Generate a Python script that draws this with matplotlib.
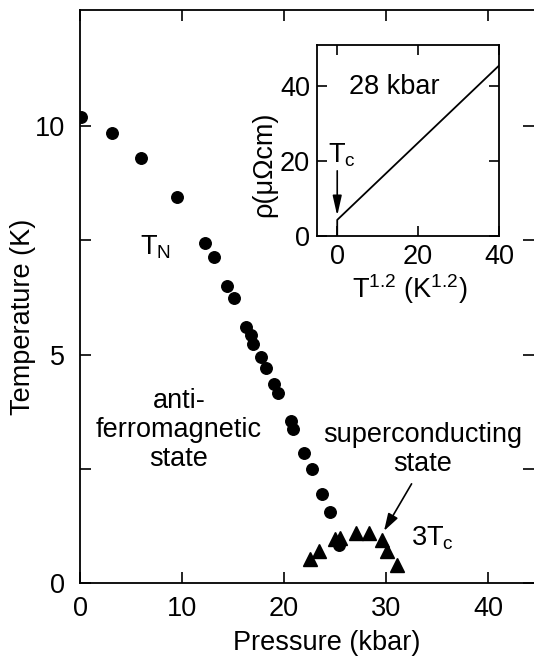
import matplotlib
matplotlib.use("Agg")
import matplotlib.pyplot as plt

plt.rcParams['font.family'] = ['Liberation Sans', 'DejaVu Sans']
plt.rcParams['mathtext.fontset'] = 'custom'
plt.rcParams['mathtext.rm'] = 'Liberation Sans'
plt.rcParams['mathtext.it'] = 'Liberation Sans'

# Neel temperature vs pressure (circles)
pressure_tn = [0.1, 3.1, 6.0, 9.5, 12.3, 13.1, 14.4, 15.1, 16.25, 16.8, 17.0,
               17.75, 18.2, 19.0, 19.4, 20.65, 20.85, 22.0, 22.7, 23.75, 24.5, 25.35]
temp_tn = [10.2, 9.85, 9.3, 8.45, 7.45, 7.13, 6.51, 6.24, 5.61, 5.43, 5.22,
           4.95, 4.70, 4.35, 4.15, 3.55, 3.36, 2.84, 2.49, 1.95, 1.55, 0.84]
# 3 x superconducting Tc vs pressure (triangles)
pressure_tc = [22.5, 23.4, 25.0, 25.5, 27.1, 28.3, 29.6, 30.1, 31.1]
temp_3tc = [0.52, 0.69, 0.96, 0.99, 1.10, 1.09, 0.94, 0.69, 0.39]

# inset: resistivity vs T^1.2 at 28 kbar
inset_x = [0, 0, 40]
inset_rho = [0, 4.3, 45.5]

main_xticks = [0, 10, 20, 30, 40]
main_yticks = [0, 5, 10]
main_yminor = [2.5, 7.5]
inset_xticks = [0, 20, 40]
inset_yticks = [0, 20, 40]

FS = 19.5

fig = plt.figure(figsize=(5.34, 6.63), dpi=100)
ax = fig.add_axes([80/534, 80/663, 454/534, 573/663])
ax.plot(pressure_tn, temp_tn, 'o', color='black', markersize=8.3, zorder=3)
ax.plot(pressure_tc, temp_3tc, '^', color='black', markersize=9.5, zorder=3)
ax.set_xlim(0, 44.5)
ax.set_ylim(0, 12.54)
ax.set_xticks(main_xticks)
ax.set_yticks(main_yticks)
ax.set_yticks(main_yminor, minor=True)
ax.spines['right'].set_visible(False)
for s in ['left', 'top', 'bottom']:
    ax.spines[s].set_linewidth(1.3)
ax.tick_params(which='both', direction='in', top=True, right=True, length=8,
               width=1.2, labelsize=FS)
ax.tick_params(axis='y', pad=11)
ax.tick_params(axis='x', pad=9)
ax.text(0.544, -0.105, 'Pressure (kbar)', transform=ax.transAxes, ha='center',
        va='center', fontsize=FS)
ax.text(-0.1256, 0.464, 'Temperature (K)', transform=ax.transAxes, ha='center',
        va='center', rotation=90, fontsize=FS)

ax.text(5.9, 7.35, r'T$_{\rm N}$', fontsize=FS, ha='left', va='center')
ax.text(9.7, 3.35, 'anti-\nferromagnetic\nstate', fontsize=FS, ha='center',
        va='center', linespacing=1.16)
ax.text(33.6, 2.92, 'superconducting\nstate', fontsize=FS, ha='center',
        va='center', linespacing=1.16)
ax.text(34.5, 0.98, r'3T$_{\rm c}$', fontsize=FS, ha='center', va='center')
ax.annotate('', xy=(29.8, 1.14), xytext=(32.5, 2.17),
            arrowprops=dict(arrowstyle='-|>,head_length=0.7,head_width=0.22',
                            color='black', lw=1.2, mutation_scale=15,
                            shrinkA=0, shrinkB=0))

# inset
ins = fig.add_axes([317/534, (663-236)/663, 182/534, 191/663])
ins.plot(inset_x, inset_rho, color='black', lw=1.3)
ins.set_xlim(-5, 40)
ins.set_ylim(0, 51)
ins.set_xticks(inset_xticks)
ins.set_yticks(inset_yticks)
for s in ins.spines.values():
    s.set_linewidth(1.3)
ins.tick_params(direction='in', top=True, right=True, length=7, width=1.2,
                labelsize=FS)
ins.tick_params(axis='y', pad=5)
ins.tick_params(axis='x', pad=6)
ins.text(0.511, -0.277, r'T$^{\rm 1.2}$ (K$^{\rm 1.2}$)', transform=ins.transAxes,
         ha='center', va='center', fontsize=FS)
ins.text(-0.29, 0.375, 'ρ(μΩcm)', transform=ins.transAxes, ha='center',
         va='center', rotation=90, fontsize=FS)
ins.text(14.1, 39.7, '28 kbar', fontsize=FS, ha='center', va='center')
ins.text(-2.3, 21.6, r'T$_{\rm c}$', fontsize=FS, ha='left', va='center')
ins.annotate('', xy=(0, 5.4), xytext=(0, 17.4),
             arrowprops=dict(arrowstyle='-|>,head_length=0.8,head_width=0.18',
                             color='black', lw=1.2, mutation_scale=15,
                             shrinkA=0, shrinkB=0))

fig.savefig('out.png', dpi=100)
